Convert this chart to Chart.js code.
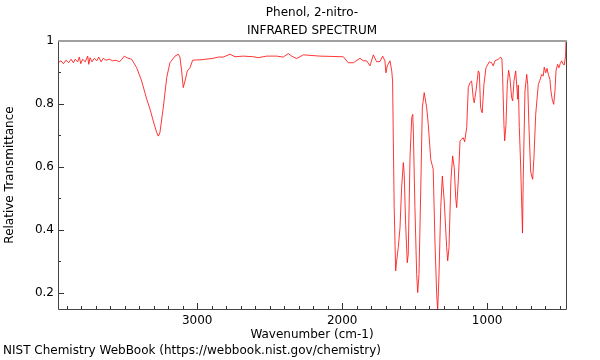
<!DOCTYPE html>
<html>
<head>
<meta charset="utf-8">
<script src="https://cdn.jsdelivr.net/npm/chart.js@4"></script>
<style>
  body { margin: 0; background: #fff; }
  canvas { display: block; }
</style>
</head>
<body>
<canvas id="irChart" width="600" height="360"></canvas>
<script>
// spectrum (cm-1, relative transmittance)
const wavenumbers = [
    3960, 3939, 3923, 3905, 3886, 3870, 3854, 3841, 3824, 3813, 3803, 3790, 3772, 3755, 3748, 3739,
    3726, 3710, 3693, 3679, 3663, 3648, 3629, 3606, 3583, 3560, 3537, 3519, 3503, 3486, 3452, 3417,
    3383, 3348, 3325, 3303, 3279, 3268, 3257, 3234, 3210, 3188, 3153, 3130, 3119, 3107, 3096, 3084,
    3068, 3050, 3031, 3003, 2981, 2889, 2854, 2820, 2774, 2739, 2682, 2613, 2578, 2521, 2452, 2406,
    2372, 2348, 2314, 2268, 2153, 1992, 1958, 1923, 1877, 1854, 1831, 1808, 1785, 1762, 1739, 1721,
    1705, 1698, 1689, 1670, 1658, 1652, 1647, 1641, 1631, 1624, 1613, 1601, 1590, 1578, 1572, 1562,
    1551, 1544, 1532, 1520, 1513, 1509, 1498, 1486, 1479, 1470, 1458, 1447, 1434, 1417, 1406, 1389,
    1372, 1360, 1348, 1341, 1332, 1320, 1309, 1296, 1279, 1272, 1263, 1250, 1238, 1227, 1217, 1210,
    1199, 1187, 1176, 1165, 1155, 1141, 1130, 1118, 1107, 1096, 1089, 1077, 1061, 1054, 1045, 1034,
    1022, 1008, 985, 969, 958, 946, 923, 907, 898, 893, 884, 879, 870, 861, 852, 843,
    831, 824, 815, 803, 789, 785, 778, 769, 762, 756, 751, 739, 727, 720, 712, 700,
    693, 686, 677, 665, 647, 636, 624, 613, 606, 596, 587, 578, 567, 560, 551, 541,
    532, 525, 514, 505, 496, 486, 475, 468, 459, 456
];
const transmittance = [
    0.931, 0.937, 0.928, 0.939, 0.931, 0.942, 0.931, 0.942, 0.934, 0.949, 0.928, 0.942, 0.934, 0.952, 0.926, 0.947,
    0.934, 0.945, 0.937, 0.949, 0.934, 0.945, 0.939, 0.942, 0.937, 0.939, 0.934, 0.942, 0.952, 0.947, 0.942, 0.915,
    0.873, 0.815, 0.783, 0.746, 0.709, 0.698, 0.709, 0.788, 0.884, 0.931, 0.952, 0.958, 0.949, 0.905, 0.852, 0.873,
    0.905, 0.915, 0.939, 0.940, 0.940, 0.945, 0.949, 0.949, 0.958, 0.950, 0.952, 0.950, 0.947, 0.952, 0.952, 0.949,
    0.960, 0.952, 0.944, 0.956, 0.952, 0.950, 0.931, 0.931, 0.945, 0.937, 0.937, 0.921, 0.956, 0.934, 0.935, 0.952,
    0.937, 0.899, 0.921, 0.937, 0.905, 0.873, 0.683, 0.471, 0.270, 0.302, 0.344, 0.407, 0.534, 0.614, 0.577, 0.418,
    0.296, 0.323, 0.630, 0.757, 0.767, 0.714, 0.471, 0.259, 0.201, 0.259, 0.524, 0.788, 0.836, 0.788, 0.735, 0.624,
    0.593, 0.365, 0.196, 0.143, 0.259, 0.471, 0.571, 0.492, 0.344, 0.302, 0.344, 0.556, 0.635, 0.598, 0.503, 0.471,
    0.556, 0.683, 0.688, 0.693, 0.680, 0.725, 0.852, 0.868, 0.873, 0.820, 0.804, 0.841, 0.905, 0.899, 0.788, 0.772,
    0.862, 0.915, 0.934, 0.931, 0.921, 0.937, 0.942, 0.949, 0.942, 0.884, 0.735, 0.683, 0.735, 0.862, 0.907, 0.884,
    0.820, 0.810, 0.873, 0.905, 0.815, 0.860, 0.725, 0.609, 0.492, 0.390, 0.560, 0.841, 0.894, 0.862, 0.735, 0.587,
    0.571, 0.561, 0.630, 0.767, 0.862, 0.875, 0.894, 0.889, 0.917, 0.899, 0.913, 0.894, 0.878, 0.841, 0.815, 0.799,
    0.841, 0.905, 0.926, 0.915, 0.928, 0.937, 0.926, 0.924, 0.952, 1.0
];

const xMajorTicks = [1000, 2000, 3000];
const xMinorTicks = [500, 600, 700, 800, 900, 1100, 1200, 1300, 1400, 1500, 1600, 1700, 1800, 1900,
    2100, 2200, 2300, 2400, 2500, 2600, 2700, 2800, 2900, 3100, 3200, 3300, 3400, 3500, 3600, 3700, 3800, 3900];
const yMajorTicks = [0.2, 0.4, 0.6, 0.8, 1];
const yMinorTicks = [0.3, 0.5, 0.7, 0.9];

const FONT = { family: 'DejaVu Sans', size: 12 };

// inward tick marks + frame like the NIST plot
const framePlugin = {
    id: 'frame',
    afterDraw(chart) {
        const { ctx, chartArea: a, scales } = chart;
        ctx.save();
        ctx.strokeStyle = '#333';
        ctx.lineWidth = 1;
        ctx.beginPath();
        scales.x.ticks.forEach(t => {
            const px = Math.round(scales.x.getPixelForValue(t.value)) + 0.5;
            const len = xMajorTicks.includes(t.value) ? 6 : 3;
            ctx.moveTo(px, a.bottom);
            ctx.lineTo(px, a.bottom - len);
        });
        scales.y.ticks.forEach(t => {
            const py = Math.round(scales.y.getPixelForValue(t.value)) + 0.5;
            const len = yMajorTicks.includes(t.value) ? 6 : 3;
            ctx.moveTo(a.left, py);
            ctx.lineTo(a.left + len, py);
        });
        ctx.stroke();

        ctx.beginPath();
        ctx.strokeStyle = '#444';
        ctx.moveTo(a.left + 0.5, a.top);
        ctx.lineTo(a.left + 0.5, a.bottom + 0.5);
        ctx.lineTo(a.right + 0.5, a.bottom + 0.5);
        ctx.lineTo(a.right + 0.5, a.top);
        ctx.stroke();

        ctx.beginPath();
        ctx.strokeStyle = '#a0a0a0';
        ctx.lineWidth = 2;
        ctx.moveTo(a.left, a.top);
        ctx.lineTo(a.right + 1, a.top);
        ctx.stroke();
        ctx.restore();
    }
};

new Chart(document.getElementById('irChart'), {
    type: 'line',
    data: {
        datasets: [{
            data: wavenumbers.map((w, i) => ({ x: w, y: transmittance[i] })),
            borderColor: 'rgba(255, 20, 20, 0.85)',
            borderWidth: 1,
            pointRadius: 0,
            tension: 0,
            fill: false
        }]
    },
    options: {
        responsive: false,
        animation: false,
        layout: { padding: { left: 3, right: 34, top: 0, bottom: 0 } },
        scales: {
            x: {
                type: 'linear',
                reverse: true,
                min: 456,
                max: 3960,
                afterBuildTicks: s => {
                    s.ticks = xMajorTicks.concat(xMinorTicks).sort((a, b) => a - b).map(v => ({ value: v }));
                },
                afterFit: s => { s.height = 33; },
                grid: { display: false, drawTicks: false },
                border: { display: false },
                ticks: {
                    autoSkip: false,
                    maxRotation: 0,
                    padding: 5,
                    color: '#000',
                    font: FONT,
                    callback: v => xMajorTicks.includes(v) ? String(v) : ''
                },
                title: {
                    display: true,
                    text: 'Wavenumber (cm-1)',
                    color: '#000',
                    font: FONT,
                    padding: { top: 0, bottom: 0 }
                }
            },
            y: {
                min: 0.149,
                max: 1,
                afterBuildTicks: s => {
                    s.ticks = yMajorTicks.concat(yMinorTicks).sort((a, b) => a - b).map(v => ({ value: v }));
                },
                afterFit: s => { s.width = 55; },
                grid: { display: false, drawTicks: false },
                border: { display: false },
                ticks: {
                    autoSkip: false,
                    padding: 4,
                    color: '#000',
                    font: FONT,
                    callback: v => yMajorTicks.includes(v) ? String(v) : ''
                },
                title: {
                    display: true,
                    text: 'Relative Transmittance',
                    color: '#000',
                    font: FONT,
                    padding: { top: 0, bottom: 0 }
                }
            }
        },
        plugins: {
            legend: { display: false },
            tooltip: { enabled: false },
            title: {
                display: true,
                fullSize: false,
                text: ['Phenol, 2-nitro-', 'INFRARED SPECTRUM'],
                color: '#000',
                font: { family: 'DejaVu Sans', size: 12, weight: 'normal', lineHeight: 1.5 },
                padding: { top: 4, bottom: 1 }
            },
            subtitle: {
                display: true,
                position: 'bottom',
                align: 'start',
                text: 'NIST Chemistry WebBook (https://webbook.nist.gov/chemistry)',
                color: '#000',
                font: { family: 'DejaVu Sans', size: 12, lineHeight: 1.5 },
                padding: { top: 0, bottom: 0 }
            }
        }
    },
    plugins: [framePlugin]
});
</script>
</body>
</html>
